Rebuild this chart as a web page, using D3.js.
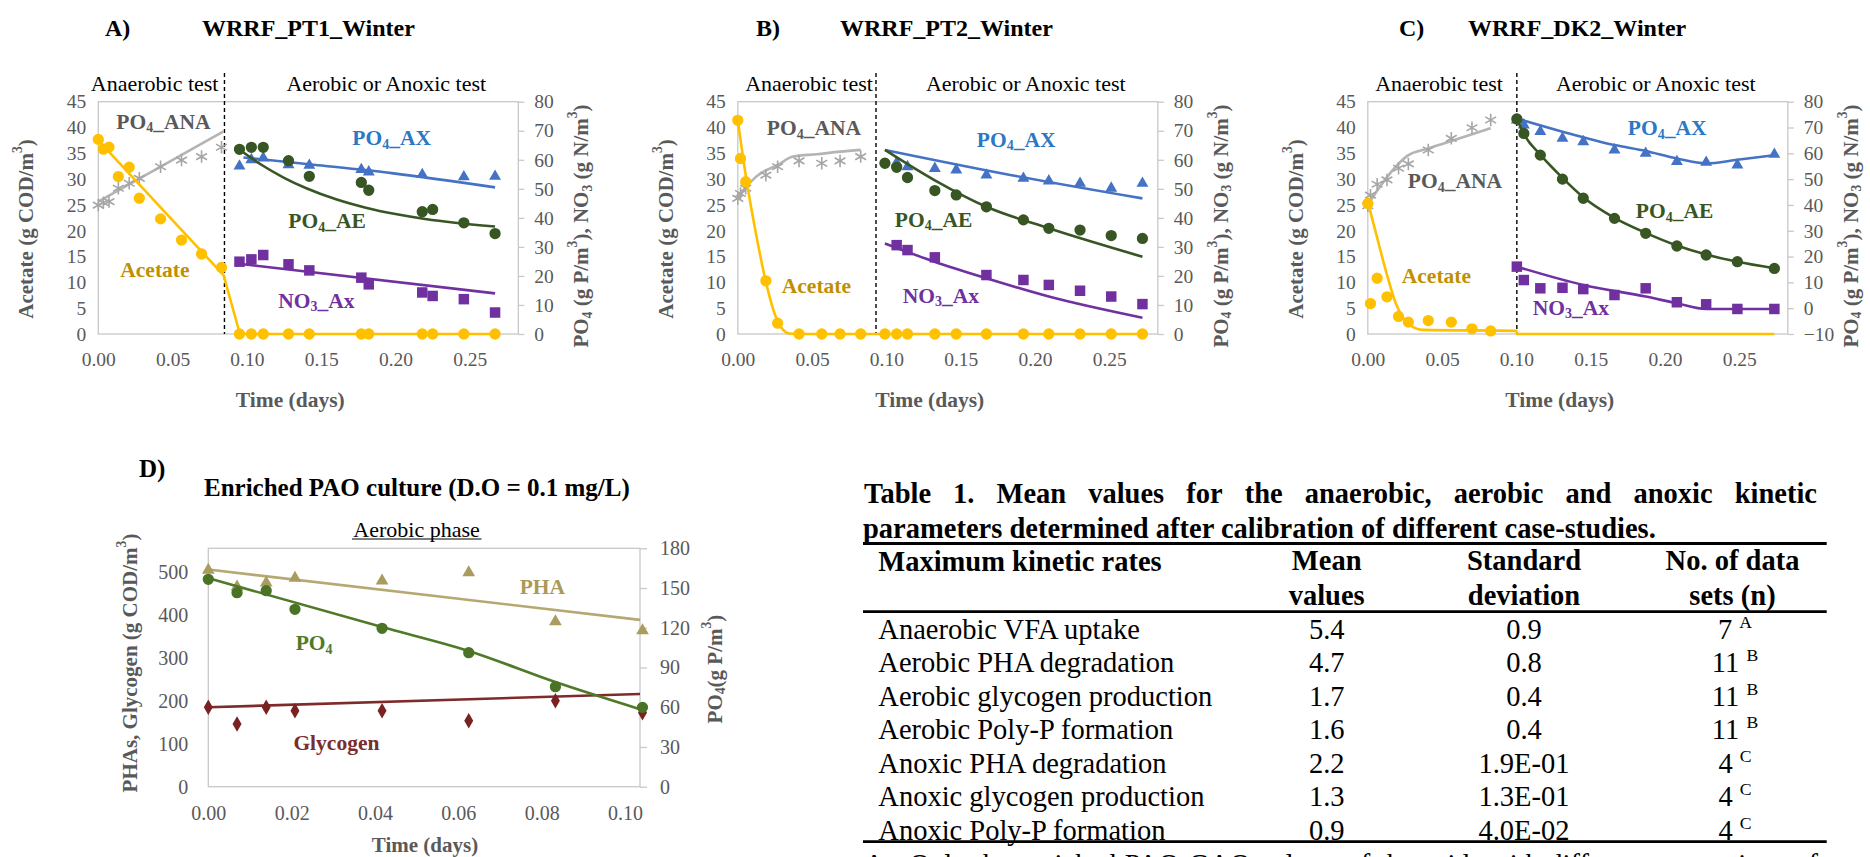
<!DOCTYPE html>
<html>
<head>
<meta charset="utf-8">
<script src="https://cdn.jsdelivr.net/npm/d3@7"></script>
<style>
  body { margin: 0; background: #fff; }
  svg { display: block; }
</style>
</head>
<body>
<div id="chart"></div>
<script>
// ---------- panel A : WRRF_PT1_Winter ----------
const aTimeAna = [0, 0.0034, 0.0072, 0.0135, 0.0208, 0.0276, 0.0419, 0.056, 0.0695, 0.0829];
const aAcetateAna = [37.7, 35.8, 36.2, 30.5, 32.3, 26.3, 22.3, 18.2, 15.5, 12.9];
const aPo4Ana = [44.4, 45.2, 45.6, 50.2, 51.9, 53.6, 57.6, 59.9, 61.1, 64.3];
const aTimeAer = [0.095, 0.103, 0.111, 0.128, 0.142, 0.177, 0.182, 0.218, 0.225, 0.246, 0.267];
const aAcetateAer = [0, 0, 0, 0, 0, 0, 0, 0, 0, 0, 0];
const aPo4Ae = [63.6, 64.3, 64.3, 59.7, 54.3, 52.2, 49.5, 42.1, 42.9, 38.3, 34.6];
const aNo3 = [24.9, 25.7, 27.2, 24.0, 21.9, 19.4, 17.1, 14.3, 13.1, 12.0, 7.4];
const aTimeAx = [0.095, 0.103, 0.111, 0.128, 0.142, 0.177, 0.182, 0.218, 0.246, 0.267];
const aPo4Ax = [57.8, 60.0, 60.6, 58.3, 58.1, 56.6, 55.8, 54.9, 54.1, 54.3];
// model lines
const aAcetateFitT = [0, 0.0843, 0.0953, 0.267];
const aAcetateFit = [37.5, 11.4, 0, 0];
const aPo4AnaFitT = [0, 0.0843];
const aPo4AnaFit = [45.6, 69.8];
const aPo4AxFitT = [0.0977, 0.145, 0.1975, 0.267];
const aPo4AxFit = [60.8, 58.3, 55.4, 50.5];
const aPo4AeFitT = [0.0977, 0.11, 0.125, 0.14, 0.16, 0.18, 0.2, 0.22, 0.24, 0.267];
const aPo4AeFit = [62.5, 58.2, 53.8, 50.2, 46.4, 43.5, 41.3, 39.6, 38.3, 37.0];
const aNo3FitT = [0.0977, 0.267];
const aNo3Fit = [24.0, 14.0];

// ---------- panel B : WRRF_PT2_Winter ----------
const bTimeAna = [0, 0.0018, 0.0053, 0.0189, 0.0268, 0.0412, 0.0565, 0.0688, 0.0827];
const bAcetateAna = [41.4, 34.0, 29.5, 10.3, 2.1, 0, 0, 0, 0];
const bPo4Ana = [46.7, 48.4, 50.2, 54.7, 57.6, 59.6, 58.8, 59.6, 61.1];
const bTimeAer = [0.099, 0.1069, 0.1142, 0.1326, 0.147, 0.1673, 0.1922, 0.2093, 0.2303, 0.2513, 0.2723];
const bAcetateAer = [0, 0, 0, 0, 0, 0, 0, 0, 0, 0, 0];
const bPo4Ae = [58.8, 57.4, 53.9, 49.4, 47.9, 43.8, 39.3, 36.4, 35.8, 33.9, 32.9];
const bTimeAx = [0.1069, 0.1142, 0.1326, 0.147, 0.1673, 0.1922, 0.2093, 0.2303, 0.2513, 0.2723];
const bPo4Ax = [59.0, 57.6, 57.0, 56.5, 54.7, 53.6, 52.7, 51.9, 50.2, 51.9];
const bTimeNo3 = [0.1069, 0.1142, 0.1326, 0.1673, 0.1922, 0.2093, 0.2303, 0.2513, 0.2723];
const bNo3 = [30.6, 28.9, 26.4, 20.3, 18.6, 16.9, 14.9, 12.9, 10.3];
const bAcetateFitT = [0, 0.0053, 0.0124, 0.0189, 0.0255, 0.0347, 0.045, 0.2723];
const bAcetateFit = [41.4, 30.8, 19.2, 10.1, 3.4, 0.1, 0, 0];
const bPo4AnaFitT = [0, 0.0058, 0.0124, 0.0268, 0.0373, 0.0531, 0.0688, 0.0827];
const bPo4AnaFit = [46.7, 50.7, 54.2, 58.2, 61.1, 61.9, 62.8, 63.4];
const bPo4AxFitT = [0.099, 0.1843, 0.2723];
const bPo4AxFit = [63.4, 54.7, 46.7];
const bPo4AeFitT = [0.099, 0.1323, 0.1673, 0.2093, 0.2723];
const bPo4AeFit = [63.4, 53.0, 43.8, 36.4, 26.6];
const bNo3FitT = [0.099, 0.1323, 0.1673, 0.2093, 0.2723];
const bNo3Fit = [31.2, 24.9, 19.2, 12.9, 5.6];

// ---------- panel C : WRRF_DK2_Winter ----------
const cTimeAna = [0, 0.0018, 0.0063, 0.0129, 0.0207, 0.0273, 0.0407, 0.0562, 0.0701, 0.0827];
const cAcetateAna = [25.3, 5.9, 10.8, 7.2, 3.4, 2.3, 2.6, 2.3, 1.0, 0.6];
const cPo4Ana = [39.7, 43.8, 48.0, 49.7, 54.2, 55.9, 61.3, 65.8, 69.9, 72.9];
const cTimeAer = [0.1003, 0.105, 0.1161, 0.131, 0.145, 0.166, 0.187, 0.208, 0.2277, 0.2487, 0.2736];
const cPo4Ax = [72.9, 71.0, 68.4, 65.8, 64.5, 61.3, 60.0, 56.8, 56.5, 55.5, 59.6];
const cPo4Ae = [73.3, 67.7, 59.3, 50.0, 42.6, 34.8, 29.0, 24.1, 20.6, 18.0, 15.4];
const cNo3 = [16.1, 10.9, 7.7, 7.9, 7.4, 5.1, 7.7, 2.3, 1.5, -0.3, -0.3];
const cAcetateFitT = [0, 0.0058, 0.0123, 0.0189, 0.0268, 0.0373, 0.1, 0.1003, 0.2736];
const cAcetateFit = [25.6, 19.2, 12.1, 5.9, 2.1, 0.8, 0.6, 0, 0];
const cPo4AnaFitT = [0, 0.0058, 0.0123, 0.0268, 0.0407, 0.0583, 0.0827];
const cPo4AnaFit = [40.0, 45.1, 50.3, 59.1, 61.9, 65.2, 69.7];
const cPo4AxFitT = [0.1003, 0.131, 0.166, 0.187, 0.208, 0.2277, 0.2487, 0.2736];
const cPo4AxFit = [73.5, 68.4, 63.2, 60.9, 58.0, 56.1, 57.5, 59.3];
const cPo4AeFitT = [0.1003, 0.105, 0.1161, 0.131, 0.145, 0.166, 0.187, 0.208, 0.2277, 0.2487, 0.2736];
const cPo4AeFit = [73.5, 67.5, 59.5, 50.5, 43.0, 35.0, 29.2, 24.3, 20.8, 18.0, 15.5];
const cNo3FitT = [0.1003, 0.145, 0.187, 0.208, 0.2277, 0.2736];
const cNo3Fit = [16.1, 9.0, 4.5, 1.9, -0.3, -0.3];

// ---------- panel D : enriched PAO culture ----------
const dTime = [0, 0.0069, 0.0139, 0.0208, 0.0417, 0.0625, 0.0833, 0.1042];
const dPha = [504, 465, 474, 485, 479, 498, 384, 363];
const dPo4 = [156.6, 146.5, 148, 133.9, 119.6, 101.2, 75.5, 59.9];
const dGlycogen = [184.6, 145.8, 184.6, 176.7, 176.7, 153.5, 200, 172];
const dPhaFitT = [0, 0.1036];
const dPhaFit = [505, 388];
const dPo4FitT = [0, 0.0417, 0.0625, 0.0833, 0.1036];
const dPo4Fit = [157.5, 120.5, 102.5, 79, 58.5];
const dGlyFitT = [0, 0.1036];
const dGlyFit = [184.6, 215.6];

// ticks
const timeTicks = [0, 0.05, 0.10, 0.15, 0.20, 0.25];
const acetateTicks = [0, 5, 10, 15, 20, 25, 30, 35, 40, 45];
const rightTicksAB = [0, 10, 20, 30, 40, 50, 60, 70, 80];
const rightTicksC = [-10, 0, 10, 20, 30, 40, 50, 60, 70, 80];
const dTimeTicks = [0, 0.02, 0.04, 0.06, 0.08, 0.10];
const dLeftTicks = [0, 100, 200, 300, 400, 500];
const dRightTicks = [0, 30, 60, 90, 120, 150, 180];

// ---------- table ----------
const tableTitle1 = "Table 1. Mean values for the anaerobic, aerobic and anoxic kinetic";
const tableTitle2 = "parameters determined after calibration of different case-studies.";
const tableRates = ["Anaerobic VFA uptake", "Aerobic PHA degradation", "Aerobic glycogen production",
  "Aerobic Poly-P formation", "Anoxic PHA degradation", "Anoxic glycogen production", "Anoxic Poly-P formation"];
const tableMeans = ["5.4", "4.7", "1.7", "1.6", "2.2", "1.3", "0.9"];
const tableStd = ["0.9", "0.8", "0.4", "0.4", "1.9E-01", "1.3E-01", "4.0E-02"];
const tableN = ["7", "11", "11", "11", "4", "4", "4"];
const tableNote = ["A", "B", "B", "B", "C", "C", "C"];

const SERIF = '"Liberation Serif", "Times New Roman", serif';
const GREY = "#595959";
const BORDER = "#C8C8C8";

const svg = d3.select("#chart").append("svg")
  .attr("width", 1870).attr("height", 857)
  .style("font-family", SERIF);

// text with sub/superscript pieces: parts = [[text, ""|"sub"|"sup"], ...]
function rich(sel, parts, fs) {
  let shift = 0;
  parts.forEach(([s, k]) => {
    const t = sel.append("tspan").text(s);
    const target = k === "sub" ? 0.25 * fs : k === "sup" ? -0.42 * fs : 0;
    if (target !== shift) t.attr("dy", target - shift);
    if (k) t.attr("font-size", fs * 0.65);
    shift = target;
  });
  return sel;
}

function label(g, x, y, parts, opt) {
  const t = g.append("text")
    .attr("x", x).attr("y", y)
    .attr("dominant-baseline", "central")
    .attr("font-size", opt.size)
    .attr("font-weight", opt.bold ? "bold" : "normal")
    .attr("fill", opt.color || "#000")
    .attr("text-anchor", opt.anchor || "start");
  if (opt.rotate) t.attr("transform", `rotate(-90,${x},${y})`);
  return rich(t, parts, opt.size);
}

function line(g, x, y, ts, vs, color, curve) {
  g.append("path")
    .datum(d3.zip(ts, vs))
    .attr("d", d3.line().x(d => x(d[0])).y(d => y(d[1])).curve(curve || d3.curveMonotoneX))
    .attr("fill", "none").attr("stroke", color).attr("stroke-width", 2.6)
    .attr("stroke-linejoin", "round");
}

function marks(g, x, y, ts, vs, type, size, color) {
  const stroked = type === d3.symbolAsterisk;
  g.append("g").selectAll("path")
    .data(d3.zip(ts, vs))
    .join("path")
    .attr("transform", d => `translate(${x(d[0])},${y(d[1])})`)
    .attr("d", d3.symbol(type, size))
    .attr("fill", stroked ? "none" : color)
    .attr("stroke", stroked ? color : "none")
    .attr("stroke-width", stroked ? 1.6 : 0);
}

function styleAxis(ax, fs) {
  ax.select(".domain").remove();
  ax.selectAll(".tick line").attr("stroke", BORDER).attr("stroke-width", 1.3);
  ax.selectAll("text").attr("fill", GREY).attr("font-size", fs).attr("font-family", SERIF);
}

// ---------- panels A-C ----------
const TOP = 101.7, BOT = 334, PW = 420;
const panels = [
  { x0: 98.3, tag: "A)", tagX: 105, title: "WRRF_PT1_Winter", titleX: 202, anaX: 90.8, aerX: 286.4, dash: 0.0849,
    right: [0, 80], rTicks: rightTicksAB, acCurve: d3.curveLinear,
    lab: { ana: [18, 121.6], ax: [254, 138.2], ae: [190, 221.2], no3: [180, 300.9], ac: [22, 270.4] },
    ana: [aTimeAna, aAcetateAna, aPo4Ana], aer: [aTimeAer, aAcetateAer],
    ax: [aTimeAx, aPo4Ax], ae: [aTimeAer, aPo4Ae], no3: [aTimeAer, aNo3],
    fit: { ac: [aAcetateFitT, aAcetateFit], ana: [aPo4AnaFitT, aPo4AnaFit], ax: [aPo4AxFitT, aPo4AxFit],
           ae: [aPo4AeFitT, aPo4AeFit], no3: [aNo3FitT, aNo3Fit] } },
  { x0: 737.8, tag: "B)", tagX: 756, title: "WRRF_PT2_Winter", titleX: 840, anaX: 745.2, aerX: 925.9, dash: 0.093,
    right: [0, 80], rTicks: rightTicksAB, acCurve: d3.curveMonotoneX,
    lab: { ana: [29, 128.3], ax: [239, 140], ae: [157, 219.6], no3: [165, 296], ac: [44, 286] },
    ana: [bTimeAna, bAcetateAna, bPo4Ana], aer: [bTimeAer, bAcetateAer],
    ax: [bTimeAx, bPo4Ax], ae: [bTimeAer, bPo4Ae], no3: [bTimeNo3, bNo3],
    fit: { ac: [bAcetateFitT, bAcetateFit], ana: [bPo4AnaFitT, bPo4AnaFit], ax: [bPo4AxFitT, bPo4AxFit],
           ae: [bPo4AeFitT, bPo4AeFit], no3: [bNo3FitT, bNo3Fit] } },
  { x0: 1367.8, tag: "C)", tagX: 1399, title: "WRRF_DK2_Winter", titleX: 1468, anaX: 1375.2, aerX: 1555.9, dash: 0.1003,
    right: [-10, 80], rTicks: rightTicksC, acCurve: d3.curveMonotoneX,
    lab: { ana: [40, 181.4], ax: [260, 128.3], ae: [268, 211.3], no3: [165, 307.5], ac: [34, 276] },
    ana: [cTimeAna, cAcetateAna, cPo4Ana], aer: null,
    ax: [cTimeAer, cPo4Ax], ae: [cTimeAer, cPo4Ae], no3: [cTimeAer, cNo3],
    fit: { ac: [cAcetateFitT, cAcetateFit], ana: [cPo4AnaFitT, cPo4AnaFit], ax: [cPo4AxFitT, cPo4AxFit],
           ae: [cPo4AeFitT, cPo4AeFit], no3: [cNo3FitT, cNo3Fit] } }
];

const C_AC = "#FFC000", C_ANA = "#A6A6A6", C_AX = "#4472C4", C_AE = "#375623", C_NO3 = "#7030A0";

panels.forEach(p => {
  const g = svg.append("g");
  const x = d3.scaleLinear().domain([0, PW / 1486]).range([p.x0, p.x0 + PW]);
  const yL = d3.scaleLinear().domain([0, 45]).range([BOT, TOP]);
  const yR = d3.scaleLinear().domain(p.right).range([BOT, TOP]);

  g.append("rect").attr("x", p.x0).attr("y", TOP).attr("width", PW).attr("height", BOT - TOP)
    .attr("fill", "none").attr("stroke", BORDER).attr("stroke-width", 1.3);

  styleAxis(g.append("g").attr("transform", `translate(${p.x0},0)`)
    .call(d3.axisLeft(yL).tickValues(acetateTicks).tickSize(0).tickPadding(12)), 19.5);
  styleAxis(g.append("g").attr("transform", `translate(${p.x0 + PW},0)`)
    .call(d3.axisRight(yR).tickValues(p.rTicks).tickSize(6).tickPadding(10)), 19.5);
  styleAxis(g.append("g").attr("transform", `translate(0,${BOT})`)
    .call(d3.axisBottom(x).tickValues(timeTicks).tickFormat(d3.format(".2f")).tickSize(0).tickPadding(18)), 19.5);

  // dashed phase separator
  g.append("line").attr("x1", x(p.dash)).attr("x2", x(p.dash)).attr("y1", 73).attr("y2", BOT)
    .attr("stroke", "#000").attr("stroke-width", 1.4).attr("stroke-dasharray", "4,3");

  // series
  line(g, x, yR, p.fit.ana[0], p.fit.ana[1], "#B4B4B4");
  marks(g, x, yR, p.ana[0], p.ana[2], d3.symbolAsterisk, 110, C_ANA);
  line(g, x, yR, p.fit.ax[0], p.fit.ax[1], C_AX);
  marks(g, x, yR, p.ax[0], p.ax[1], d3.symbolTriangle, 62, C_AX);
  line(g, x, yR, p.fit.no3[0], p.fit.no3[1], C_NO3);
  marks(g, x, yR, p.no3[0], p.no3[1], d3.symbolSquare, 110, C_NO3);
  line(g, x, yR, p.fit.ae[0], p.fit.ae[1], C_AE);
  marks(g, x, yR, p.ae[0], p.ae[1], d3.symbolCircle, 100, C_AE);
  line(g, x, yL, p.fit.ac[0], p.fit.ac[1], C_AC, p.acCurve);
  marks(g, x, yL, p.ana[0], p.ana[1], d3.symbolCircle, 100, C_AC);
  if (p.aer) marks(g, x, yL, p.aer[0], p.aer[1], d3.symbolCircle, 100, C_AC);

  // titles and annotations
  label(g, p.tagX, 28, [[p.tag, ""]], { size: 24, bold: true });
  label(g, p.titleX, 28, [[p.title, ""]], { size: 24, bold: true });
  label(g, p.anaX, 82.7, [["Anaerobic test", ""]], { size: 22 });
  label(g, p.aerX, 82.7, [["Aerobic or Anoxic test", ""]], { size: 22 });
  label(g, p.x0 - 72, 229, [["Acetate (g COD/m", ""], ["3", "sup"], [")", ""]],
    { size: 21, bold: true, color: GREY, anchor: "middle", rotate: true });
  label(g, p.x0 + 483, 226, [["PO", ""], ["4", "sub"], [" (g P/m", ""], ["3", "sup"], ["), NO", ""], ["3", "sub"], [" (g N/m", ""], ["3", "sup"], [")", ""]],
    { size: 21, bold: true, color: GREY, anchor: "middle", rotate: true });
  label(g, p.x0 + 192, 400, [["Time (days)", ""]], { size: 21.5, bold: true, color: GREY, anchor: "middle" });

  const L = p.lab;
  label(g, p.x0 + L.ana[0], L.ana[1], [["PO", ""], ["4", "sub"], ["_ANA", ""]], { size: 21.5, bold: true, color: GREY });
  label(g, p.x0 + L.ax[0], L.ax[1], [["PO", ""], ["4", "sub"], ["_AX", ""]], { size: 21.5, bold: true, color: "#2B78C5" });
  label(g, p.x0 + L.ae[0], L.ae[1], [["PO", ""], ["4", "sub"], ["_AE", ""]], { size: 21.5, bold: true, color: C_AE });
  label(g, p.x0 + L.no3[0], L.no3[1], [["NO", ""], ["3", "sub"], ["_Ax", ""]], { size: 21.5, bold: true, color: C_NO3 });
  label(g, p.x0 + L.ac[0], L.ac[1], [["Acetate", ""]], { size: 21.5, bold: true, color: "#BF9000" });
});

// ---------- panel D ----------
{
  const g = svg.append("g");
  const x0 = 208.3, x1 = 640, top = 548.3, bot = 786.7;
  const x = d3.scaleLinear().domain([0, 0.1036]).range([x0, x1]);
  const yL = d3.scaleLinear().domain([0, 554.4]).range([bot, top]);
  const yR = d3.scaleLinear().domain([0, 180]).range([bot, top]);

  g.append("rect").attr("x", x0).attr("y", top).attr("width", x1 - x0).attr("height", bot - top)
    .attr("fill", "none").attr("stroke", BORDER).attr("stroke-width", 1.3);
  styleAxis(g.append("g").attr("transform", `translate(${x0},0)`)
    .call(d3.axisLeft(yL).tickValues(dLeftTicks).tickSize(0).tickPadding(20)), 20);
  styleAxis(g.append("g").attr("transform", `translate(${x1},0)`)
    .call(d3.axisRight(yR).tickValues(dRightTicks).tickSize(7).tickPadding(13)), 20);
  styleAxis(g.append("g").attr("transform", `translate(0,${bot})`)
    .call(d3.axisBottom(x).tickValues(dTimeTicks).tickFormat(d3.format(".2f")).tickSize(0).tickPadding(19)), 20);

  line(g, x, yL, dPhaFitT, dPhaFit, "#B5A872", d3.curveLinear);
  marks(g, x, yL, dTime, dPha, d3.symbolTriangle, 70, "#A99C5E");
  line(g, x, yL, dGlyFitT, dGlyFit, "#7F2B2B", d3.curveLinear);
  marks(g, x, yL, dTime, dGlycogen, d3.symbolDiamond, 70, "#7A2222");
  line(g, x, yR, dPo4FitT, dPo4Fit, "#4F7A28");
  marks(g, x, yR, dTime, dPo4, d3.symbolCircle, 100, "#4A7326");

  label(g, 139, 468.3, [["D)", ""]], { size: 25, bold: true });
  label(g, 204, 487, [["Enriched PAO culture (D.O = 0.1 mg/L)", ""]], { size: 25, bold: true });
  label(g, 416.6, 529.3, [["Aerobic phase", ""]], { size: 22, anchor: "middle" });
  g.append("line").attr("x1", 352).attr("x2", 481.5).attr("y1", 539).attr("y2", 539)
    .attr("stroke", "#000").attr("stroke-width", 1.2);
  label(g, 130, 663, [["PHAs, Glycogen (g COD/m", ""], ["3", "sup"], [")", ""]],
    { size: 21, bold: true, color: GREY, anchor: "middle", rotate: true });
  label(g, 715, 669, [["PO", ""], ["4", "sub"], ["(g P/m", ""], ["3", "sup"], [")", ""]],
    { size: 21, bold: true, color: GREY, anchor: "middle", rotate: true });
  label(g, 425, 844.5, [["Time (days)", ""]], { size: 21, bold: true, color: GREY, anchor: "middle" });
  label(g, 519.7, 586.7, [["PHA", ""]], { size: 21.5, bold: true, color: "#A99A5A" });
  label(g, 295.7, 643.3, [["PO", ""], ["4", "sub"]], { size: 21.5, bold: true, color: "#4F7A28" });
  label(g, 293.4, 743.3, [["Glycogen", ""]], { size: 21.5, bold: true, color: "#7B2C2C" });
}

// ---------- table ----------
{
  const g = svg.append("g").attr("fill", "#000");
  const left = 864, right = 1826.7, fs = 28.5;

  // spread words of one line between x0 and x1
  function justify(text, y, x0, x1, bold) {
    const words = text.split(" ");
    const tmp = g.append("text").attr("font-size", fs).attr("font-weight", bold ? "bold" : "normal");
    const widths = words.map(w => { tmp.text(w); return tmp.node().getComputedTextLength(); });
    tmp.remove();
    const gap = (x1 - x0 - d3.sum(widths)) / (words.length - 1);
    let cx = x0;
    words.forEach((w, i) => {
      g.append("text").attr("x", cx).attr("y", y).attr("font-size", fs)
        .attr("font-weight", bold ? "bold" : "normal").text(w);
      cx += widths[i] + gap;
    });
  }
  justify(tableTitle1, 503, left, 1817, true);
  g.append("text").attr("x", 863).attr("y", 538).attr("font-size", fs).attr("font-weight", "bold").text(tableTitle2);

  const rule = (y, w) => g.append("line").attr("x1", 863).attr("x2", right).attr("y1", y).attr("y2", y)
    .attr("stroke", "#000").attr("stroke-width", w);
  rule(543.5, 2.8);
  rule(611.7, 2.8);
  rule(841.7, 2.8);

  const colMean = 1326.7, colStd = 1524, colN = 1732.5;
  const head = (x, y, t, anchor) => g.append("text").attr("x", x).attr("y", y).attr("font-size", fs)
    .attr("font-weight", "bold").attr("text-anchor", anchor).text(t);
  head(878.3, 571, "Maximum kinetic rates", "start");
  head(colMean, 569.5, "Mean", "middle");
  head(colMean, 604.5, "values", "middle");
  head(colStd, 569.5, "Standard", "middle");
  head(colStd, 604.5, "deviation", "middle");
  head(colN, 569.5, "No. of data", "middle");
  head(colN, 604.5, "sets (n)", "middle");

  tableRates.forEach((r, i) => {
    const y = 638.5 + i * 33.5;
    g.append("text").attr("x", 878.3).attr("y", y).attr("font-size", fs).text(r);
    g.append("text").attr("x", colMean).attr("y", y).attr("font-size", fs).attr("text-anchor", "middle").text(tableMeans[i]);
    g.append("text").attr("x", colStd).attr("y", y).attr("font-size", fs).attr("text-anchor", "middle").text(tableStd[i]);
    const t = g.append("text").attr("x", 1735).attr("y", y).attr("font-size", fs).attr("text-anchor", "middle");
    t.append("tspan").text(tableN[i] + " ");
    t.append("tspan").attr("font-size", fs * 0.62).attr("dy", -11).text(tableNote[i]);
  });

  // footnote line, cut by the bottom edge as in the source
  justify("A : Only the enriched PAO-GAO culture of the acids with different proportions of", 874, left, 1818, false);
}
</script>
</body>
</html>
